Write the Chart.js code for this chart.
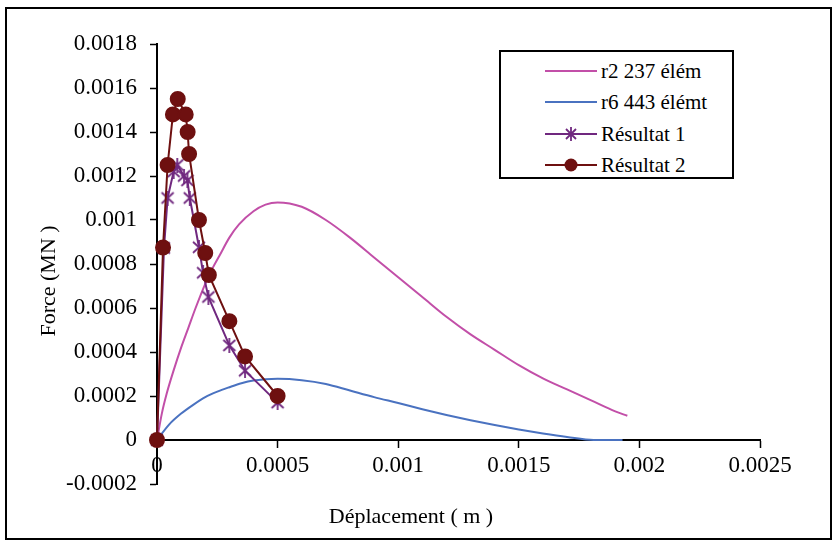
<!DOCTYPE html>
<html>
<head>
<meta charset="utf-8">
<script src="https://cdn.jsdelivr.net/npm/chart.js@4.4.0/dist/chart.umd.min.js"></script>
<style>
  body { margin: 0; background: #fff; }
  #wrap { position: relative; width: 835px; height: 545px; }
  #frame { position: absolute; left: 5px; top: 7px; width: 827px; height: 533px; box-sizing: border-box; border: 2px solid #000; pointer-events: none; }
  #legend { position: absolute; left: 499px; top: 50px; width: 235px; height: 129px; box-sizing: border-box; border: 2px solid #000; background: #fff;
            font-family: "Liberation Serif", "Times New Roman", serif; font-size: 21px; color: #000; }
  .row { position: absolute; left: 44px; height: 26px; display: flex; align-items: center; white-space: nowrap; }
  .row svg { margin-right: 4px; }
</style>
</head>
<body>
<div id="wrap">
  <canvas id="chart" width="835" height="545"></canvas>
  <div id="legend"></div>
  <div id="frame"></div>
</div>
<script>
// r2 237 élém
const r2X = [0, 0.00002, 0.00004, 0.00007, 0.0001, 0.00013, 0.00016, 0.0002, 0.00023, 0.00026, 0.0003, 0.00034, 0.0004, 0.00045, 0.0005,
             0.0006, 0.0007, 0.0008, 0.0009, 0.001, 0.0011, 0.0012, 0.0013, 0.0014, 0.0015, 0.0016, 0.0017, 0.0018, 0.0019, 0.00195];
const r2Y = [0, 0.00012, 0.00021, 0.00032, 0.00042, 0.00051, 0.0006, 0.00071, 0.00078, 0.00084, 0.00092, 0.00098, 0.00104, 0.00107, 0.00108,
             0.00106, 0.001, 0.00092, 0.00083, 0.00074, 0.00065, 0.00056, 0.00048, 0.00041, 0.00034, 0.00028, 0.00023, 0.00018, 0.00013, 0.00011];
// r6 443 élémt
const r6X = [0, 0.00005, 0.0001, 0.00015, 0.0002, 0.00025, 0.0003, 0.00035, 0.0004, 0.0005, 0.0006, 0.0007, 0.0008, 0.0009,
             0.001, 0.0011, 0.0012, 0.0013, 0.0014, 0.0015, 0.0016, 0.0017, 0.00181, 0.00193];
const r6Y = [0, 0.00007, 0.00012, 0.00016, 0.000195, 0.00022, 0.00024, 0.000258, 0.00027, 0.000278, 0.000272, 0.000255, 0.000225, 0.000195,
             0.000168, 0.00014, 0.000114, 0.00009, 0.000068, 0.000048, 0.00003, 0.000014, 0, 0];
// Résultat 1
const res1X = [0, 0.000029, 0.000044, 0.000069, 0.000084, 0.000112, 0.000126, 0.000136, 0.000174, 0.000191, 0.000213, 0.0003, 0.000365, 0.0005];
const res1Y = [0, 0.000873, 0.0011, 0.00122, 0.00125, 0.0012, 0.00118, 0.0011, 0.000876, 0.00076, 0.00065, 0.00043, 0.000315, 0.00017];
// Résultat 2
const res2X = [0, 0.000025, 0.000044, 0.000066, 0.000086, 0.000119, 0.000127, 0.000133, 0.000174, 0.0002, 0.000215, 0.0003, 0.000365, 0.0005];
const res2Y = [0, 0.000875, 0.00125, 0.00148, 0.00155, 0.00148, 0.0014, 0.0013, 0.001, 0.00085, 0.00075, 0.00054, 0.00038, 0.0002];

const seriesNames = ['r2 237 élém', 'r6 443 élémt', 'Résultat 1', 'Résultat 2'];
const xTicks = [0, 0.0005, 0.001, 0.0015, 0.002, 0.0025];
const yTicks = [-0.0002, 0, 0.0002, 0.0004, 0.0006, 0.0008, 0.001, 0.0012, 0.0014, 0.0016, 0.0018];
const xTitle = 'Déplacement ( m )';
const yTitle = 'Force (MN )';

const pink = '#c24fa8', blue = '#4a72c0', purple = '#70287f', darkRed = '#6e1010';
const serif = '"Liberation Serif", "Times New Roman", serif';

function pts(xs, ys) { return xs.map((x, i) => ({ x: x, y: ys[i] })); }
function fmt(v) { return String(parseFloat(Number(v).toFixed(5))); }

function starMarker(color) {
  const c = document.createElement('canvas');
  c.width = 16; c.height = 15;
  const g = c.getContext('2d');
  g.strokeStyle = color;
  g.lineWidth = 1.8;
  g.beginPath();
  g.moveTo(2, 2); g.lineTo(14, 13);
  g.moveTo(14, 2); g.lineTo(2, 13);
  g.moveTo(8, 0); g.lineTo(8, 15);
  g.stroke();
  return c;
}

const axisTitles = {
  id: 'axisTitles',
  afterDraw(chart) {
    const ctx = chart.ctx;
    ctx.save();
    ctx.font = '22px ' + serif;
    ctx.fillStyle = '#000';
    ctx.textAlign = 'center';
    ctx.textBaseline = 'middle';
    ctx.fillText(xTitle, 411, 517);
    ctx.translate(49, 281);
    ctx.rotate(-Math.PI / 2);
    ctx.fillText(yTitle, 0, 0);
    ctx.restore();
  }
};

const tickFont = { family: serif, size: 23 };

const chart = new Chart(document.getElementById('chart'), {
  type: 'scatter',
  data: {
    datasets: [
      { label: seriesNames[0], data: pts(r2X, r2Y), showLine: true, borderColor: pink, borderWidth: 2,
        pointRadius: 0, cubicInterpolationMode: 'monotone', order: 3 },
      { label: seriesNames[1], data: pts(r6X, r6Y), showLine: true, borderColor: blue, borderWidth: 2,
        pointRadius: 0, cubicInterpolationMode: 'monotone', order: 2 },
      { label: seriesNames[2], data: pts(res1X, res1Y), showLine: true, borderColor: purple, borderWidth: 2,
        pointStyle: starMarker(purple), pointRadius: 7, clip: false, order: 1 },
      { label: seriesNames[3], data: pts(res2X, res2Y), showLine: true, borderColor: darkRed, borderWidth: 2,
        pointStyle: 'circle', pointRadius: 7, pointBackgroundColor: darkRed, pointBorderColor: darkRed,
        clip: false, order: 0 }
    ]
  },
  options: {
    responsive: false,
    animation: false,
    layout: { padding: { left: 7, top: 44, right: 75, bottom: 61 } },
    plugins: { legend: { display: false }, tooltip: { enabled: false } },
    scales: {
      x: {
        type: 'linear', min: 0, max: 0.0025, position: { y: 0 },
        afterBuildTicks: s => { s.ticks = xTicks.map(v => ({ value: v })); },
        ticks: { callback: fmt, font: tickFont, color: '#000', padding: 5, maxRotation: 0, autoSkip: false },
        grid: { drawOnChartArea: false, drawTicks: true, tickLength: 7, tickColor: '#000', tickWidth: 1.5 },
        border: { color: '#000', width: 2 }
      },
      y: {
        type: 'linear', min: -0.0002, max: 0.0018, position: 'left',
        afterBuildTicks: s => { s.ticks = yTicks.map(v => ({ value: v })); },
        afterFit: s => { s.width = 150; },
        ticks: { callback: fmt, font: tickFont, color: '#000', padding: 13, autoSkip: false },
        grid: { drawOnChartArea: false, drawTicks: true, tickLength: 7, tickColor: '#000', tickWidth: 1.5 },
        border: { color: '#000', width: 2 }
      }
    }
  },
  plugins: [axisTitles]
});

// legend built from the chart's datasets
const legendBox = document.getElementById('legend');
const rowCenters = [19, 50, 82, 113];
chart.data.datasets.forEach((ds, i) => {
  const row = document.createElement('div');
  row.className = 'row';
  row.style.top = (rowCenters[i] - 13) + 'px';
  let marker = '';
  if (i === 2) marker = '<path d="M21 3 L31 13 M31 3 L21 13 M26 1 L26 15" stroke="' + ds.borderColor + '" stroke-width="1.8" fill="none"/>';
  if (i === 3) marker = '<circle cx="26" cy="8" r="6.5" fill="' + ds.borderColor + '"/>';
  row.innerHTML = '<svg width="52" height="16"><line x1="0" y1="8" x2="52" y2="8" stroke="' + ds.borderColor +
    '" stroke-width="2"/>' + marker + '</svg><span>' + ds.label + '</span>';
  legendBox.appendChild(row);
});
</script>
</body>
</html>
